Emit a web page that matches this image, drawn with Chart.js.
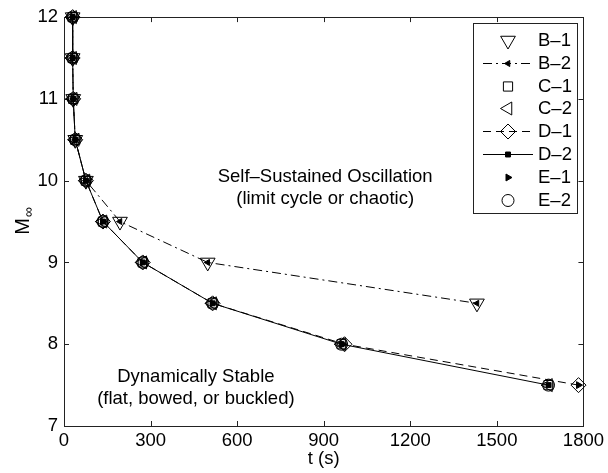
<!DOCTYPE html>
<html><head><meta charset="utf-8">
<script src="https://cdn.jsdelivr.net/npm/chart.js@4/dist/chart.umd.min.js"></script>
<style>html,body{margin:0;padding:0;background:#fff}#wrap{width:608px;height:473px}</style>
</head><body><div id="wrap"><canvas id="c" width="608" height="473"></canvas></div>
<script>
// ---- data ----
const seriesNames = ['B\u20131','B\u20132','C\u20131','C\u20132','D\u20131','D\u20132','E\u20131','E\u20132'];
const xTicks = [0, 300, 600, 900, 1200, 1500, 1800];
const yTicks = [7, 8, 9, 10, 11, 12];

const tB1 = [30, 30, 32, 39, 76, 194, 498, 1431];
const mB1 = [12, 11.5, 11, 10.5, 10, 9.5, 9, 8.5];
const tB2 = [30, 30, 32, 39, 76, 194, 498, 1431];
const mB2 = [12, 11.5, 11, 10.5, 10, 9.5, 9, 8.5];
const tC1 = [30, 30, 32, 39, 76, 135, 273, 515, 962, 1679];
const mC1 = [12, 11.5, 11, 10.5, 10, 9.5, 9, 8.5, 8, 7.5];
const tC2 = [30, 30, 32, 39, 76, 135, 273, 515, 962, 1679];
const mC2 = [12, 11.5, 11, 10.5, 10, 9.5, 9, 8.5, 8, 7.5];
const tD1 = [30, 30, 32, 39, 76, 135, 273, 515, 972, 1783];
const mD1 = [12, 11.5, 11, 10.5, 10, 9.5, 9, 8.5, 8, 7.5];
const tD2 = [30, 30, 32, 39, 76, 135, 273, 515, 962, 1679];
const mD2 = [12, 11.5, 11, 10.5, 10, 9.5, 9, 8.5, 8, 7.5];
const tE1 = [30, 30, 32, 39, 76, 135, 273, 515, 966, 1783];
const mE1 = [12, 11.5, 11, 10.5, 10, 9.5, 9, 8.5, 8, 7.5];
const tE2 = [30, 30, 32, 39, 76, 135, 273, 515, 962, 1679];
const mE2 = [12, 11.5, 11, 10.5, 10, 9.5, 9, 8.5, 8, 7.5];

const annotations = [
  {lines: ['Self\u2013Sustained Oscillation', '(limit cycle or chaotic)'], t: 905, m: 10.05},
  {lines: ['Dynamically Stable', '(flat, bowed, or buckled)'], t: 457, m: 7.6}
];

// ---- build ----
const pts = (t, m) => t.map((v, i) => ({x: v, y: m[i]}));
const FONT = '"Liberation Sans", Arial, Helvetica, sans-serif';
const K = '#000';

const styles = [
  {d: pts(tB1, mB1), line: false, ps: 'triangle', rot: 180, r: 8.5, fill: false},
  {d: pts(tB2, mB2), line: true, dash: [9, 4, 2, 4], ps: 'triangle', rot: 270, r: 3.5, fill: true},
  {d: pts(tC1, mC1), line: false, ps: 'rect', rot: 0, r: 6.5, fill: false},
  {d: pts(tC2, mC2), line: false, ps: 'triangle', rot: 270, r: 7.5, fill: false},
  {d: pts(tD1, mD1), line: true, dash: [8, 5], ps: 'rectRot', rot: 0, r: 7.5, fill: false},
  {d: pts(tD2, mD2), line: true, dash: [], ps: 'rect', rot: 0, r: 3.5, fill: true},
  {d: pts(tE1, mE1), line: false, ps: 'triangle', rot: 90, r: 4, fill: true},
  {d: pts(tE2, mE2), line: false, ps: 'circle', rot: 0, r: 6, fill: false}
];

const datasets = styles.map((s, i) => ({
  label: seriesNames[i],
  data: s.d,
  showLine: s.line,
  clip: false,
  borderColor: K,
  borderWidth: 1,
  borderDash: s.dash || [],
  pointStyle: s.ps,
  pointRotation: s.rot,
  pointRadius: s.r,
  pointBorderWidth: 1,
  pointBorderColor: K,
  pointBackgroundColor: s.fill ? K : 'rgba(0,0,0,0)',
  backgroundColor: s.fill ? K : 'rgba(0,0,0,0)',
  fill: false,
  tension: 0
}));

function drawMarker(ctx, s, x, y) {
  ctx.save();
  ctx.setLineDash([]);
  ctx.lineWidth = 1;
  ctx.strokeStyle = K;
  ctx.fillStyle = s.fill ? K : 'rgba(0,0,0,0)';
  if (Chart.helpers && Chart.helpers.drawPoint) {
    Chart.helpers.drawPoint(ctx, {pointStyle: s.ps, rotation: s.rot, radius: s.r, borderWidth: 1}, x, y);
  }
  ctx.restore();
}

const framePlugin = {
  id: 'frame',
  beforeDatasetsDraw(chart) {
    const ctx = chart.ctx, a = chart.chartArea;
    const xs = chart.scales.x, ys = chart.scales.y;
    ctx.save();
    ctx.strokeStyle = '#222';
    ctx.lineWidth = 1;
    ctx.setLineDash([]);
    ctx.strokeRect(Math.round(a.left) + 0.5, Math.round(a.top) + 0.5, Math.round(a.right - a.left), Math.round(a.bottom - a.top));
    const L = 5;
    ctx.beginPath();
    xTicks.forEach(v => {
      const px = Math.round(xs.getPixelForValue(v)) + 0.5;
      ctx.moveTo(px, a.bottom); ctx.lineTo(px, a.bottom - L);
      ctx.moveTo(px, a.top); ctx.lineTo(px, a.top + L);
    });
    yTicks.forEach(v => {
      const py = Math.round(ys.getPixelForValue(v)) + 0.5;
      ctx.moveTo(a.left, py); ctx.lineTo(a.left + L, py);
      ctx.moveTo(a.right, py); ctx.lineTo(a.right - L, py);
    });
    ctx.stroke();
    ctx.restore();
  },
  afterDraw(chart) {
    const ctx = chart.ctx, a = chart.chartArea;
    const xs = chart.scales.x, ys = chart.scales.y;
    ctx.save();
    // y title M∞
    ctx.fillStyle = K;
    ctx.translate(23, (a.top + a.bottom) / 2);
    ctx.rotate(-Math.PI / 2);
    ctx.textBaseline = 'middle';
    ctx.textAlign = 'left';
    ctx.font = '20px ' + FONT;
    const wM = ctx.measureText('M').width;
    ctx.font = '14px ' + FONT;
    const wI = ctx.measureText('\u221E').width;
    const x0 = -(wM + wI) / 2;
    ctx.font = '20px ' + FONT;
    ctx.fillText('M', x0, 0);
    ctx.font = '14px ' + FONT;
    ctx.fillText('\u221E', x0 + wM + 1, 6);
    ctx.restore();

    // annotations
    ctx.save();
    ctx.fillStyle = K;
    ctx.font = '18.5px ' + FONT;
    ctx.textAlign = 'center';
    ctx.textBaseline = 'middle';
    annotations.forEach(an => {
      const cx = xs.getPixelForValue(an.t), cy = ys.getPixelForValue(an.m);
      an.lines.forEach((ln, i) => ctx.fillText(ln, cx, cy + i * 22));
    });
    ctx.restore();

    // legend
    ctx.save();
    const bx = 473.5, by = 23.5, bw = 104, bh = 190;
    ctx.fillStyle = '#fff';
    ctx.fillRect(bx, by, bw, bh);
    ctx.strokeStyle = '#222';
    ctx.lineWidth = 1;
    ctx.strokeRect(bx, by, bw, bh);
    ctx.font = '18.5px ' + FONT;
    ctx.textBaseline = 'middle';
    ctx.textAlign = 'left';
    styles.forEach((s, i) => {
      const y = 40 + i * 22.8;
      if (s.line) {
        ctx.save();
        ctx.strokeStyle = K;
        ctx.setLineDash(s.dash);
        ctx.beginPath();
        ctx.moveTo(483, Math.round(y) + 0.5);
        ctx.lineTo(533, Math.round(y) + 0.5);
        ctx.stroke();
        ctx.restore();
      }
      drawMarker(ctx, s, 508, Math.round(y) + 0.5);
      ctx.fillStyle = K;
      ctx.fillText(seriesNames[i], 538, y + 1);
    });
    ctx.restore();
  }
};

new Chart(document.getElementById('c'), {
  type: 'scatter',
  data: {datasets},
  options: {
    responsive: false,
    animation: false,
    layout: {padding: {left: 0, right: 23, top: 15, bottom: 0}},
    plugins: {legend: {display: false}, tooltip: {enabled: false}},
    scales: {
      x: {
        type: 'linear', min: 0, max: 1800,
        afterBuildTicks: s => { s.ticks = xTicks.map(v => ({value: v})); },
        afterFit: s => { s.height = 47; },
        grid: {display: false, drawTicks: false},
        border: {display: false},
        ticks: {color: K, font: {size: 18.5, family: FONT}, padding: 4, maxRotation: 0, autoSkip: false,
                callback: v => String(v)},
        title: {display: true, text: 't (s)', color: K, font: {size: 18.5, family: FONT}, padding: {top: 0, bottom: 3}}
      },
      y: {
        type: 'linear', min: 7, max: 12,
        afterBuildTicks: s => { s.ticks = yTicks.map(v => ({value: v})); },
        afterFit: s => { s.width = 64; },
        grid: {display: false, drawTicks: false},
        border: {display: false},
        ticks: {color: K, font: {size: 18.5, family: FONT}, padding: 6, autoSkip: false,
                callback: v => String(v)},
        title: {display: false}
      }
    }
  },
  plugins: [framePlugin]
});
</script>
</body></html>
